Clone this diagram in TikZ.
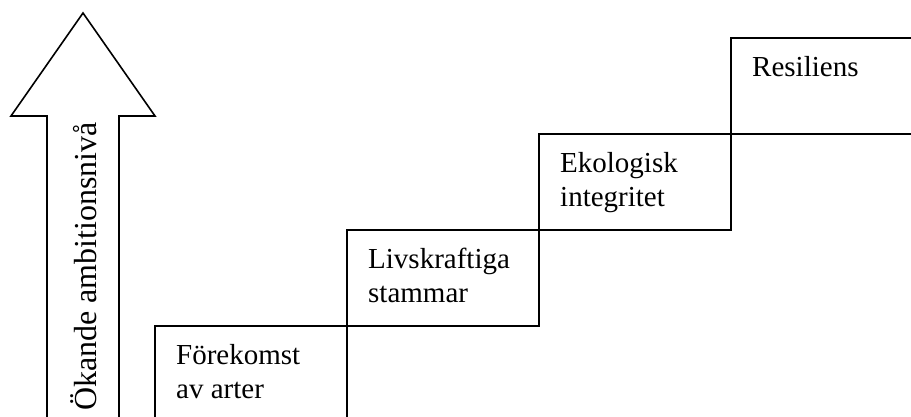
\documentclass[tikz,border=0pt]{standalone}
\usepackage{fontspec}
\setmainfont{Liberation Serif}
\usetikzlibrary{positioning}

\tikzset{
	stepbox/.style={draw, line width=1.6pt, minimum width=192pt, minimum height=96pt, inner sep=0pt, outer sep=0pt},
	steptext/.style={align=left, inner sep=0pt, font=\fontsize{29}{34}\selectfont}
}

\begin{document}
\begin{tikzpicture}[x=1pt,y=1pt]
	\useasboundingbox (0,0) rectangle (911,416);
	\clip (0,0) rectangle (911,416);
	\draw node (arrowtip) at (83,403) {};
	\draw[line width=1.6pt] (47,-5) -- (47,300) -- (11,300) -- (arrowtip.center) -- (155,300) -- (119,300) -- (119,-5);
	\draw node (ambition)[rotate=90, anchor=base west, inner sep=0pt, font=\fontsize{32}{36}\selectfont] at (96,5) {Ökande ambitionsnivå};
	\draw node (arter)[stepbox, anchor=north west] at (155,90) {};
	\draw node (stammar)[stepbox, above right=0pt of arter.north east] {};
	\draw node (integritet)[stepbox, above right=0pt of stammar.north east] {};
	\draw node (resiliens)[stepbox, above right=0pt of integritet.north east] {};
	\draw node (tarter)[steptext, below right=18pt and 21pt of arter.north west] {Förekomst\\av arter};
	\draw node (tstammar)[steptext, below right=18pt and 21pt of stammar.north west] {Livskraftiga\\stammar};
	\draw node (tintegritet)[steptext, below right=18pt and 21pt of integritet.north west] {Ekologisk\\integritet};
	\draw node (tresiliens)[steptext, below right=18pt and 21pt of resiliens.north west] {Resiliens};
\end{tikzpicture}
\end{document}
